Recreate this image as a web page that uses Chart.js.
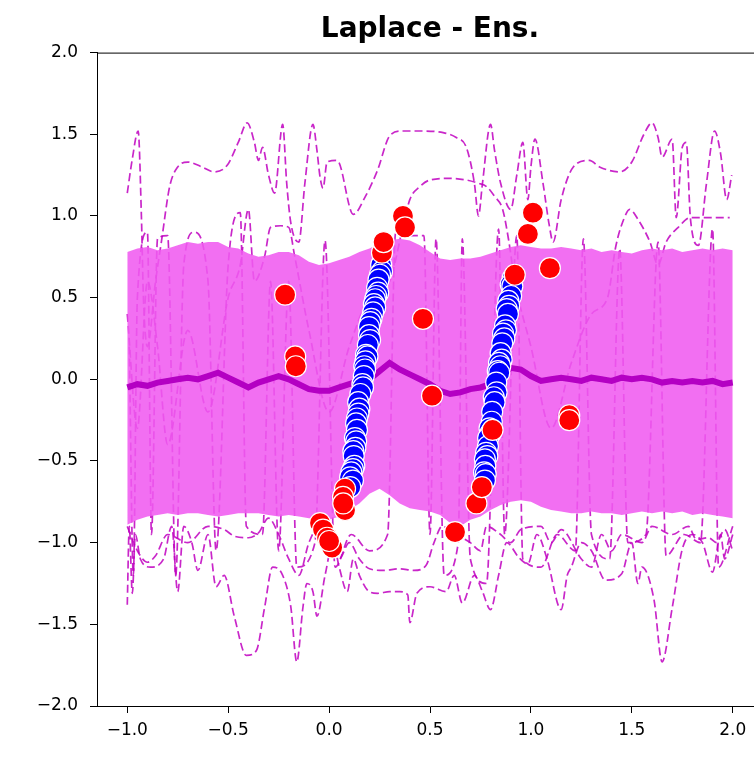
<!DOCTYPE html>
<html>
<head>
<meta charset="utf-8">
<script src="https://cdn.jsdelivr.net/npm/chart.js@4.4.1/dist/chart.umd.min.js"></script>
<style>
  html, body { margin: 0; padding: 0; background: #fff; overflow: hidden; }
  #wrap { width: 780px; height: 770px; }
</style>
</head>
<body>
<div id="wrap"><canvas id="chart" width="780" height="770"></canvas></div>
<script>
// grid the predictive band and mean are evaluated on
const gridX = [-1.00, -0.95, -0.90, -0.85, -0.80, -0.75, -0.70, -0.65, -0.60, -0.55,
               -0.50, -0.45, -0.40, -0.35, -0.30, -0.25, -0.20, -0.15, -0.10, -0.05,
                0.00,  0.05,  0.10,  0.15,  0.20,  0.25,  0.30,  0.35,  0.40,  0.45,
                0.50,  0.55,  0.60,  0.65,  0.70,  0.75,  0.80,  0.85,  0.90,  0.95,
                1.00,  1.05,  1.10,  1.15,  1.20,  1.25,  1.30,  1.35,  1.40,  1.45,
                1.50,  1.55,  1.60,  1.65,  1.70,  1.75,  1.80,  1.85,  1.90,  1.95, 2.00];

const bandUpper = [0.78, 0.80, 0.81, 0.79, 0.80, 0.82, 0.84, 0.83, 0.84, 0.84,
                   0.81, 0.80, 0.77, 0.75, 0.76, 0.78, 0.78, 0.76, 0.72, 0.70,
                   0.71, 0.73, 0.75, 0.78, 0.80, 0.83, 0.85, 0.86, 0.85, 0.82,
                   0.78, 0.74, 0.73, 0.74, 0.74, 0.75, 0.77, 0.79, 0.81, 0.82,
                   0.81, 0.80, 0.80, 0.81, 0.80, 0.79, 0.80, 0.78, 0.79, 0.78,
                   0.77, 0.79, 0.80, 0.79, 0.80, 0.78, 0.79, 0.80, 0.79, 0.80, 0.79];

const bandLower = [-0.89, -0.86, -0.84, -0.83, -0.82, -0.83, -0.82, -0.82, -0.83, -0.84,
                   -0.83, -0.82, -0.82, -0.82, -0.83, -0.84, -0.83, -0.84, -0.85, -0.86,
                   -0.86, -0.84, -0.80, -0.76, -0.70, -0.67, -0.71, -0.76, -0.79, -0.80,
                   -0.81, -0.83, -0.88, -0.90, -0.86, -0.84, -0.80, -0.77, -0.75, -0.74,
                   -0.75, -0.78, -0.80, -0.81, -0.82, -0.82, -0.81, -0.82, -0.82, -0.83,
                   -0.82, -0.81, -0.82, -0.81, -0.82, -0.81, -0.83, -0.82, -0.83, -0.84, -0.85];

const meanY = [-0.05, -0.03, -0.04, -0.02, -0.01, 0.00, 0.01, 0.00, 0.02, 0.04,
                0.01, -0.02, -0.05, -0.02, 0.00, 0.02, 0.00, -0.03, -0.06, -0.07,
               -0.07, -0.05, -0.03, -0.01, 0.00, 0.05, 0.10, 0.06, 0.03, 0.00,
               -0.03, -0.07, -0.09, -0.08, -0.06, -0.05, -0.03, 0.02, 0.07, 0.06,
                0.02, -0.01, 0.00, 0.01, 0.00, -0.01, 0.01, 0.00, -0.01, 0.01,
                0.00, 0.01, 0.00, -0.02, -0.01, -0.02, -0.01, -0.02, -0.01, -0.03, -0.02];

// individual ensemble members, dashed
const memberA = [[-1.0, 1.14], [-0.975, 1.35], [-0.946, 1.52], [-0.93, 1.0], [-0.92, 0.5], [-0.9, 0.2],
  [-0.86, 0.6], [-0.83, 0.85], [-0.79, 1.18], [-0.75, 1.30], [-0.70, 1.33], [-0.63, 1.30], [-0.57, 1.27],
  [-0.505, 1.31], [-0.45, 1.45], [-0.406, 1.57], [-0.37, 1.45], [-0.35, 1.34], [-0.33, 1.42], [-0.30, 1.25],
  [-0.27, 1.14], [-0.23, 1.56], [-0.21, 1.2], [-0.19, 0.96], [-0.15, 0.84], [-0.12, 1.2], [-0.08, 1.56],
  [-0.06, 1.4], [-0.045, 1.24], [-0.03, 1.17], [-0.01, 1.33], [0.04, 1.34], [0.12, 1.01], [0.18, 1.12],
  [0.24, 1.28], [0.30, 1.49], [0.36, 1.52], [0.45, 1.52], [0.565, 1.51], [0.63, 1.48], [0.68, 1.42],
  [0.72, 1.20], [0.74, 1.0], [0.76, 1.2], [0.80, 1.56], [0.82, 1.4], [0.85, 1.2], [0.90, 1.04],
  [0.93, 1.25], [0.96, 1.45], [0.985, 1.1], [1.0, 1.3], [1.02, 1.47], [1.06, 1.2], [1.09, 0.95],
  [1.11, 0.84], [1.15, 1.1], [1.21, 1.30], [1.29, 1.34], [1.34, 1.30], [1.44, 1.27], [1.5, 1.33],
  [1.56, 1.5], [1.6, 1.57], [1.63, 1.48], [1.65, 1.36], [1.7, 1.47], [1.72, 0.99], [1.75, 1.42],
  [1.77, 1.45], [1.79, 0.99], [1.83, 0.82], [1.87, 1.2], [1.91, 1.52], [1.94, 1.38], [1.97, 1.1], [1.995, 1.25]];

const memberB = [[-1.0, 0.4], [-0.95, -0.3], [-0.9, 0.6], [-0.85, 0.2], [-0.8, -0.4], [-0.7, 0.3],
  [-0.6, -0.2], [-0.5, 0.5], [-0.44, 0.7], [-0.4, 1.04], [-0.37, 0.6], [-0.32, 0.75], [-0.29, 0.93],
  [-0.24, 0.94], [-0.2, 0.93], [-0.17, 0.75], [-0.1, 0.3], [0.0, -0.2], [0.1, 0.2], [0.2, 0.5],
  [0.3, 0.6], [0.36, 0.9], [0.40, 1.10], [0.45, 1.18], [0.50, 1.22], [0.60, 1.23], [0.68, 1.22],
  [0.74, 1.20], [0.78, 1.18], [0.82, 1.12], [0.86, 1.04], [0.89, 0.85], [0.92, 0.6], [1.0, 0.2],
  [1.1, -0.3], [1.2, 0.1], [1.3, 0.4], [1.38, 0.5], [1.42, 0.81], [1.46, 0.98], [1.49, 1.04],
  [1.53, 0.98], [1.59, 0.84], [1.63, 0.7], [1.67, 0.84], [1.73, 0.93], [1.79, 0.99], [1.85, 0.99],
  [1.92, 0.99], [1.985, 0.99]];

const memberC = [[-1.0, -1.38], [-0.99, -0.9], [-0.975, -1.31], [-0.96, -0.95], [-0.935, -1.1],
  [-0.885, -1.15], [-0.82, -1.1], [-0.78, -0.9], [-0.75, -1.30], [-0.72, -0.9], [-0.68, -1.0],
  [-0.65, -1.17], [-0.6, -0.95], [-0.56, -1.27], [-0.52, -1.2], [-0.47, -1.45], [-0.41, -1.69],
  [-0.36, -1.66], [-0.32, -1.4], [-0.28, -1.15], [-0.23, -1.2], [-0.19, -1.39], [-0.16, -1.73],
  [-0.13, -1.4], [-0.11, -1.25], [-0.08, -1.3], [-0.06, -1.45], [-0.02, -1.2], [0.02, -1.0],
  [0.05, -1.15], [0.09, -1.3], [0.12, -1.1], [0.15, -1.2], [0.19, -1.29], [0.24, -1.31], [0.3, -1.3],
  [0.35, -1.3], [0.39, -1.32], [0.40, -1.49], [0.435, -1.31], [0.50, -1.27], [0.58, -1.3], [0.62, -1.2],
  [0.66, -1.37], [0.72, -1.2], [0.76, -1.3], [0.80, -1.41], [0.84, -1.2], [0.88, -1.0], [0.94, -1.09],
  [0.985, -1.13], [1.03, -0.95], [1.08, -1.1], [1.15, -1.41], [1.18, -1.2], [1.20, -1.15], [1.25, -1.0],
  [1.3, -1.05], [1.37, -1.23], [1.45, -1.19], [1.5, -1.0], [1.53, -1.25], [1.55, -1.15], [1.61, -1.35],
  [1.65, -1.73], [1.7, -1.4], [1.75, -1.04], [1.8, -0.95], [1.85, -1.0], [1.9, -1.18], [1.94, -0.95],
  [1.96, -1.1], [2.0, -0.95]];

const memberD = [[-1.0, -0.9], [-0.95, -1.05], [-0.9, -1.12], [-0.86, -1.08], [-0.8, -0.95], [-0.7, -1.0],
  [-0.6, -0.9], [-0.52, -0.92], [-0.47, -0.96], [-0.4, -0.97], [-0.35, -0.94], [-0.3, -0.85],
  [-0.25, -0.95], [-0.2, -1.1], [-0.15, -1.2], [-0.1, -1.0], [-0.05, -0.9], [0.0, -0.95], [0.05, -1.1],
  [0.1, -1.0], [0.15, -1.1], [0.2, -1.16], [0.27, -1.17], [0.35, -1.16], [0.42, -1.17], [0.48, -1.14],
  [0.52, -1.0], [0.56, -0.9], [0.63, -0.95], [0.7, -1.0], [0.75, -1.05], [0.78, -0.9], [0.85, -0.95],
  [0.9, -1.0], [0.95, -0.92], [1.05, -0.9], [1.1, -1.0], [1.15, -0.92], [1.25, -1.1], [1.3, -1.15],
  [1.35, -0.95], [1.4, -1.05], [1.45, -0.95], [1.55, -1.0], [1.6, -0.9], [1.7, -0.95], [1.78, -0.9],
  [1.82, -0.98], [1.88, -0.97], [1.92, -1.0], [1.96, -0.92], [2.0, -1.05]];

const memberE = [[-0.99, 0.2], [-0.97, -1.2], [-0.95, 0.5], [-0.9, 0.9], [-0.88, -0.95], [-0.85, 0.86],
  [-0.8, 0.88], [-0.76, -1.2], [-0.72, 0.7], [-0.67, 0.9], [-0.6, 0.6],
  [-0.56, -1.05], [-0.5, 0.7], [-0.44, 1.02], [-0.41, -0.9], [-0.33, -0.95], [-0.29, 0.6],
  [-0.25, -1.05], [-0.2, 0.6], [-0.16, -1.15], [-0.07, -1.0], [-0.02, 0.85], [0.03, -1.15],
  [0.11, -0.95], [0.2, -1.05], [0.29, -0.95], [0.33, 0.9],
  [0.4, 0.88], [0.47, 0.88], [0.5, -0.95], [0.53, 0.86], [0.57, -1.2],
  [0.64, -1.0], [0.66, 0.86], [0.7, -1.1], [0.78, -1.25], [0.84, 0.92],
  [0.87, -0.95], [0.93, 0.88], [0.96, -1.1], [1.05, -1.15], [1.13, -0.95],
  [1.22, -1.05], [1.26, 0.86], [1.3, -0.95], [1.39, -1.1], [1.44, 0.8],
  [1.48, -1.0], [1.57, -0.95], [1.63, 0.84], [1.67, -1.08], [1.76, -0.95],
  [1.84, -1.0], [1.9, 0.92], [1.93, -1.15], [2.0, -0.9]];

// training data (blue), two steep strips
const trainX = [0.258, 0.262, 0.252, 0.245, 0.238, 0.243, 0.233, 0.228, 0.222, 0.228, 0.218, 0.210,
                0.204, 0.198, 0.198, 0.203, 0.192, 0.183, 0.190, 0.180, 0.174, 0.178, 0.172, 0.165,
                0.168, 0.155, 0.144, 0.150, 0.145, 0.138, 0.134, 0.138, 0.128, 0.134, 0.130, 0.120,
                0.122, 0.125, 0.118, 0.110, 0.104, 0.118, 0.105,
                0.910, 0.900, 0.908, 0.902, 0.888, 0.892, 0.880, 0.886, 0.872, 0.876, 0.862, 0.868,
                0.858, 0.850, 0.855, 0.842, 0.848, 0.836, 0.843, 0.828, 0.830, 0.816, 0.820, 0.808,
                0.806, 0.795, 0.800, 0.788, 0.787, 0.778, 0.784, 0.772, 0.774, 0.768, 0.776, 0.772];
const trainY = [0.70, 0.66, 0.64, 0.61, 0.56, 0.53, 0.51, 0.49, 0.46, 0.44, 0.41, 0.37,
                0.35, 0.32, 0.27, 0.24, 0.21, 0.15, 0.14, 0.11, 0.08, 0.06, 0.02, -0.03,
                -0.05, -0.09, -0.14, -0.18, -0.21, -0.24, -0.27, -0.31, -0.36, -0.38, -0.42, -0.44,
                -0.47, -0.53, -0.55, -0.57, -0.60, -0.62, -0.66,
                0.62, 0.58, 0.57, 0.51, 0.48, 0.45, 0.43, 0.40, 0.33, 0.30, 0.28, 0.25,
                0.22, 0.16, 0.12, 0.10, 0.08, 0.05, 0.04, -0.02, -0.08, -0.11, -0.14, -0.20,
                -0.26, -0.30, -0.33, -0.36, -0.41, -0.45, -0.47, -0.49, -0.53, -0.57, -0.58, -0.62];

// test data (red)
const testX = [-0.218, -0.168, -0.165, -0.045, -0.030, -0.010, 0.015, 0.000, 0.079, 0.069, 0.079, 0.070,
               0.262, 0.270, 0.366, 0.376, 0.465, 0.510, 0.624, 0.730, 0.757, 0.810, 0.920, 0.985,
               1.010, 1.094, 1.190, 1.190];
const testY = [0.518, 0.14, 0.08, -0.88, -0.92, -0.97, -1.03, -0.99, -0.67, -0.72, -0.80, -0.76,
               0.775, 0.84, 1.00, 0.93, 0.37, -0.10, -0.935, -0.76, -0.66, -0.31, 0.64, 0.89,
               1.02, 0.68, -0.22, -0.25];

const xTickValues = [-1.0, -0.5, 0.0, 0.5, 1.0, 1.5, 2.0];
const xTickLabels = ['\u22121.0', '\u22120.5', '0.0', '0.5', '1.0', '1.5', '2.0'];
const yTickValues = [-2.0, -1.5, -1.0, -0.5, 0.0, 0.5, 1.0, 1.5, 2.0];
const yTickLabels = ['\u22122.0', '\u22121.5', '\u22121.0', '\u22120.5', '0.0', '0.5', '1.0', '1.5', '2.0'];

const toPoints = (xs, ys) => xs.map((x, i) => ({ x: x, y: ys[i] }));
const fromPairs = pairs => pairs.map(p => ({ x: p[0], y: p[1] }));

const dashColor = 'rgba(191,0,191,0.85)';
function member(pairs) {
  return {
    data: fromPairs(pairs),
    borderColor: dashColor,
    borderWidth: 1.7,
    borderDash: [8, 4],
    pointRadius: 0,
    fill: false,
    cubicInterpolationMode: 'monotone',
    order: 4
  };
}

// top and right spines
const frame = {
  id: 'frame',
  afterDraw(chart) {
    const { ctx, chartArea: a } = chart;
    ctx.save();
    ctx.strokeStyle = '#000';
    ctx.lineWidth = 1;
    ctx.beginPath();
    ctx.moveTo(a.left, a.top + 0.5);
    ctx.lineTo(a.right, a.top + 0.5);
    ctx.lineTo(a.right, a.bottom);
    ctx.stroke();
    ctx.restore();
  }
};

const tickFont = { family: 'DejaVu Sans', size: 17 };

new Chart(document.getElementById('chart'), {
  type: 'line',
  data: {
    datasets: [
      {
        data: toPoints(testX, testY),
        showLine: false,
        pointRadius: 10.5,
        pointBackgroundColor: '#ff0000',
        pointBorderColor: '#ffffff',
        pointBorderWidth: 1.2,
        order: 0
      },
      {
        data: toPoints(trainX, trainY),
        showLine: false,
        pointRadius: 10.5,
        pointBackgroundColor: '#0000ff',
        pointBorderColor: '#ffffff',
        pointBorderWidth: 1.2,
        order: 1
      },
      {
        data: toPoints(gridX, meanY),
        borderColor: 'rgb(180,0,195)',
        borderWidth: 6,
        pointRadius: 0,
        fill: false,
        order: 2
      },
      {
        data: toPoints(gridX, bandUpper),
        borderWidth: 0,
        pointRadius: 0,
        fill: '+1',
        backgroundColor: 'rgba(240,90,240,0.87)',
        order: 3
      },
      {
        data: toPoints(gridX, bandLower),
        borderWidth: 0,
        pointRadius: 0,
        fill: false,
        order: 3
      },
      member(memberA),
      member(memberB),
      member(memberC),
      member(memberD),
      member(memberE)
    ]
  },
  options: {
    responsive: false,
    animation: false,
    layout: { padding: { left: 0, right: 17, top: 0, bottom: 0 } },
    plugins: {
      legend: { display: false },
      tooltip: { enabled: false },
      title: {
        display: true,
        text: 'Laplace - Ens.',
        color: '#000',
        fullSize: false,
        font: { family: 'DejaVu Sans', size: 28, weight: 'bold' },
        padding: { top: 13, bottom: 6 }
      }
    },
    scales: {
      x: {
        type: 'linear',
        min: -1.15,
        max: 2.15,
        afterBuildTicks: s => { s.ticks = xTickValues.map(v => ({ value: v })); },
        afterFit: s => { s.height = 64; },
        grid: { drawOnChartArea: false, tickLength: 7, tickColor: '#000', tickWidth: 1 },
        border: { color: '#000', width: 1 },
        ticks: {
          color: '#000',
          font: tickFont,
          padding: 7,
          maxRotation: 0,
          autoSkip: false,
          callback: v => xTickLabels[xTickValues.indexOf(v)]
        }
      },
      y: {
        type: 'linear',
        min: -2,
        max: 2,
        afterBuildTicks: s => { s.ticks = yTickValues.map(v => ({ value: v })); },
        afterFit: s => { s.width = 97; },
        grid: { drawOnChartArea: false, tickLength: 7, tickColor: '#000', tickWidth: 1 },
        border: { color: '#000', width: 1 },
        ticks: {
          color: '#000',
          font: tickFont,
          padding: 12,
          autoSkip: false,
          callback: v => yTickLabels[yTickValues.indexOf(v)]
        }
      }
    }
  },
  plugins: [frame]
});
</script>
</body>
</html>
